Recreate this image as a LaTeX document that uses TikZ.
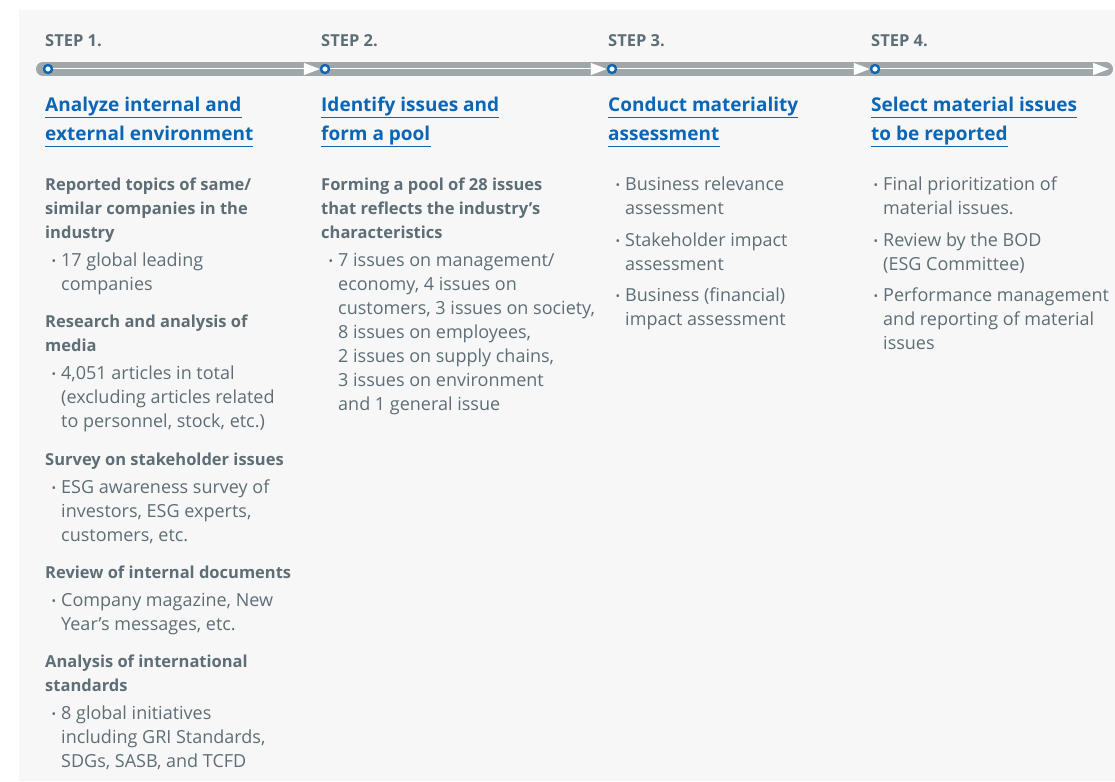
\documentclass[tikz,border=0pt]{standalone}
\usepackage{fontspec}
\setmainfont{Open Sans}
\usetikzlibrary{arrows.meta}

\definecolor{bggray}{HTML}{F7F7F7}
\definecolor{bargray}{HTML}{A0A7AB}
\definecolor{txtgray}{HTML}{5E6E76}
\definecolor{stepblue}{HTML}{0A66B7}

\newcommand{\bul}{\llap{\raisebox{0.6pt}{\fontsize{12}{12}\selectfont\textbullet}\hspace{5pt}}}

\begin{document}
\begin{tikzpicture}[x=1pt,y=-1pt,
  steplabel/.style={anchor=base west,inner sep=0,text=txtgray,font=\fontsize{16.5}{16.5}\selectfont\bfseries},
  titleline/.style={anchor=base west,inner sep=0,text=stepblue,font=\fontsize{19}{29}\selectfont\bfseries},
  uline/.style={stepblue,line width=1.3pt},
  head/.style={anchor=base west,inner sep=0,align=left,text=txtgray,font=\fontsize{16.5}{24}\selectfont\bfseries},
  item/.style={head,font=\fontsize{18}{24}\selectfont},
  dot/.style={circle,draw=stepblue,fill=white,line width=2.4pt,minimum size=8pt,inner sep=0},
  track/.style={white,line width=1pt,-{Triangle[length=16pt,width=12pt]}}]
  \useasboundingbox (0,0) rectangle (1115,781);
  \fill[bggray] (19,10) rectangle (1115,781);
  % the time line
  \draw[bargray,line width=14pt,line cap=round] (43,69) -- (1106,69);
  \node[dot]    (d1)   at (48,69) {};
  \node[dot]    (d2)   at (325,69) {};
  \node[dot]    (d3)   at (612,69) {};
  \node[dot]    (d4)   at (875,69) {};
  \coordinate   (dend) at (1109,69);
  \draw[track] (d1) -- (d2);
  \draw[track] (d2) -- (d3);
  \draw[track] (d3) -- (d4);
  \draw[track] (d4) -- (dend);
  \node[steplabel] (s1) at (45,47)  {STEP 1.};
  \node[steplabel] (s2) at (321,47) {STEP 2.};
  \node[steplabel] (s3) at (608,47) {STEP 3.};
  \node[steplabel] (s4) at (871,47) {STEP 4.};
  % titles, underlined line by line
  \node[titleline] (t1a) at (45,111.5)  {Analyze internal and~};
  \node[titleline] (t1b) at (45,140.5)  {external environment};
  \node[titleline] (t2a) at (321,111.5) {Identify issues and~};
  \node[titleline] (t2b) at (321,140.5) {form a pool};
  \node[titleline] (t3a) at (608,111.5) {Conduct materiality~};
  \node[titleline] (t3b) at (608,140.5) {assessment};
  \node[titleline] (t4a) at (871,111.5) {Select material issues~};
  \node[titleline] (t4b) at (871,140.5) {to be reported};
  \foreach \t in {t1a,t1b,t2a,t2b,t3a,t3b,t4a,t4b}
    \draw[uline] ([yshift=-6pt]\t.base west) -- ([yshift=-6pt]\t.base east);
  % Step 1 (nodes sit on the baseline of their last line)
  \node[head] (h1a) at (45,238) {Reported topics of same/\\similar companies in the\\industry};
  \node[item] (i1a) at (61,290) {\bul 17 global leading\\companies};
  \node[head] (h1b) at (45,351) {Research and analysis of\\media};
  \node[item] (i1b) at (61,427) {\bul 4,051 articles in total\\(excluding articles related\\to personnel, stock, etc.)};
  \node[head] (h1c) at (45,465) {Survey on stakeholder issues};
  \node[item] (i1c) at (61,541) {\bul ESG awareness survey of\\investors, ESG experts,\\customers, etc.};
  \node[head] (h1d) at (45,578) {Review of internal documents};
  \node[item] (i1d) at (61,630) {\bul Company magazine, New\\Year’s messages, etc.};
  \node[head] (h1e) at (45,691) {Analysis of international\\standards};
  \node[item] (i1e) at (61,767) {\bul 8 global initiatives\\including GRI Standards,\\SDGs, SASB, and TCFD};
  % Step 2
  \node[head] (h2a) at (321,238) {Forming a pool of 28 issues\\that reflects the industry’s\\characteristics};
  \node[item] (i2a) at (338,410) {\bul 7 issues on management/\\economy, 4 issues on\\customers, 3 issues on society,\\8 issues on employees,\\2 issues on supply chains,\\3 issues on environment\\and 1 general issue};
  % Step 3
  \node[item] (i3a) at (625,214) {\bul Business relevance\\assessment};
  \node[item] (i3b) at (625,270) {\bul Stakeholder impact\\assessment};
  \node[item] (i3c) at (625,325) {\bul Business (financial)\\impact assessment};
  % Step 4
  \node[item] (i4a) at (883,214) {\bul Final prioritization of\\material issues.};
  \node[item] (i4b) at (883,270) {\bul Review by the BOD\\(ESG Committee)};
  \node[item] (i4c) at (883,349) {\bul Performance management\\and reporting of material\\issues};
\end{tikzpicture}
\end{document}
